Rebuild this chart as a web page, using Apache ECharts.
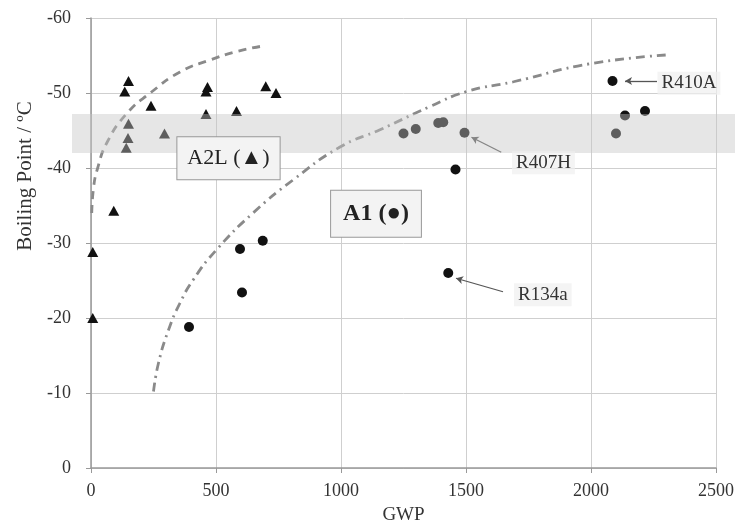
<!DOCTYPE html>
<html>
<head>
<meta charset="utf-8">
<script src="https://cdn.jsdelivr.net/npm/echarts@6/dist/echarts.min.js"></script>
<style>
html, body { margin: 0; background: #fff; }
#main { width: 735px; height: 525px; }
</style>
</head>
<body>
<div id="main"></div>
<script>
// A2L refrigerants (triangles): [GWP, boiling point]
var a2lPoints = [
  [7, -28.8], [7, -20.0], [91, -34.3], [141, -42.7], [148, -44.0], [150, -45.9],
  [135, -50.2], [150, -51.6], [240, -48.3], [294, -44.6], [460, -47.2], [460, -50.2],
  [466, -50.8], [582, -47.6], [699, -50.9], [740, -50.0]
];
// A1 refrigerants (circles)
var a1Points = [
  [392, -18.8], [596, -29.2], [604, -23.4], [687, -30.3], [1250, -44.6], [1299, -45.2],
  [1389, -46.0], [1409, -46.1], [1494, -44.7], [1458, -39.8], [1429, -26.0],
  [2086, -51.6], [2100, -44.6], [2136, -47.0], [2216, -47.6]
];
// trend lines
var a2lTrend = [
  [3, -34], [10, -37.3], [25, -39.8], [64, -43.4], [144, -47.3], [237, -50.0],
  [356, -52.8], [476, -54.4], [580, -55.5], [676, -56.2]
];
var a1Trend = [
  [250, -10.2], [270, -14.0], [310, -18.4], [356, -22.0], [409, -25.1], [502, -29.1],
  [648, -34.0], [808, -38.4], [996, -42.8], [1156, -45.1], [1356, -48.2], [1503, -50.2],
  [1690, -51.5], [1996, -53.9], [2316, -55.1]
];
var bandRange = [-42, -47.2];
var xTicks = [0, 500, 1000, 1500, 2000, 2500];
// annotations: arrow from [from] to [to], label at [at]
var notes = [
  { text: 'R410A', from: [2264, -51.6], to: [2136, -51.6], at: [2266, -51.3] },
  { text: 'R407H', from: [1641, -42.1], to: [1522, -44.1], at: [1684, -40.7] },
  { text: 'R134a', from: [1648, -23.5], to: [1460, -25.3], at: [1692, -23.1] }
];
var boxes = [
  { text: 'A2L (▲)', at: [550, -41.3], bold: false },
  { text: 'A1 (●)', at: [1140, -33.9], bold: true }
];

var font = 'Liberation Serif, Times New Roman, serif';
var chart = echarts.init(document.getElementById('main'));

chart.setOption({
  animation: false,
  grid: { left: 91, right: 19, top: 18, bottom: 57, containLabel: false, outerBoundsMode: 'none' },
  xAxis: {
    type: 'value', min: xTicks[0], max: xTicks[xTicks.length - 1], interval: 500,
    name: 'GWP', nameLocation: 'middle', nameGap: 38,
    nameTextStyle: { fontFamily: font, fontSize: 19, color: '#333' },
    axisLine: { lineStyle: { color: '#999', width: 1.5 } },
    axisTick: { show: true, length: 5, lineStyle: { color: '#999' } },
    axisLabel: { fontFamily: font, fontSize: 18, color: '#333', margin: 14,
      formatter: function (v) { return String(v); } },
    splitLine: { lineStyle: { color: '#cfcfcf' } }
  },
  yAxis: {
    type: 'value', min: -60, max: 0, interval: 10, inverse: true,
    axisLine: { show: true, lineStyle: { color: '#999', width: 1.5 } },
    axisTick: { show: true, length: 5, lineStyle: { color: '#999' } },
    axisLabel: { fontFamily: font, fontSize: 18, color: '#333', margin: 20 },
    splitLine: { lineStyle: { color: '#cfcfcf' } }
  },
  series: [
    {
      type: 'line', data: a2lTrend, smooth: true, symbol: 'none', silent: true,
      lineStyle: { color: '#8a8a8a', width: 2.8, type: [8, 6] }
    },
    {
      type: 'line', data: a1Trend, smooth: true, symbol: 'none', silent: true,
      lineStyle: { color: '#8a8a8a', width: 2.8, type: [9, 5, 2, 5] }
    },
    {
      type: 'scatter', data: a2lPoints, symbol: 'triangle', symbolSize: [11, 10],
      itemStyle: { color: '#111', opacity: 1 }
    },
    {
      type: 'scatter', data: a1Points, symbol: 'circle', symbolSize: 10,
      itemStyle: { color: '#111', opacity: 1 }
    },
    {
      type: 'scatter', data: [],
      markLine: {
        silent: true, animation: false,
        symbol: ['none', 'arrow'], symbolSize: [6, 7],
        label: { show: false },
        lineStyle: { color: '#555', width: 1.3, type: 'solid' },
        data: notes.map(function (n) {
          return [{ coord: n.from }, { coord: n.to }];
        })
      }
    }
  ]
});

// band, axis title and text boxes
var yTop = chart.convertToPixel({ gridIndex: 0 }, [0, bandRange[1]])[1];
var yBot = chart.convertToPixel({ gridIndex: 0 }, [0, bandRange[0]])[1];
var elements = [{
  type: 'rect', z: 10, silent: true,
  shape: { x: 72, y: yTop, width: 735 - 72, height: yBot - yTop },
  style: { fill: 'rgba(197,197,197,0.43)' }
}, {
  type: 'text', z: 20, x: 25, y: 176, rotation: Math.PI / 2,
  style: {
    text: 'Boiling Point / ºC', font: '21px ' + font, fill: '#333',
    align: 'center', verticalAlign: 'middle'
  }
}];
notes.forEach(function (n) {
  var p = chart.convertToPixel({ gridIndex: 0 }, n.at);
  elements.push({
    type: 'text', z: 20, x: p[0], y: p[1],
    style: {
      text: n.text, font: '19px ' + font, fill: '#333',
      align: 'left', verticalAlign: 'middle',
      backgroundColor: 'rgba(240,240,240,0.7)', padding: [2, 4]
    }
  });
});
boxes.forEach(function (b) {
  var p = chart.convertToPixel({ gridIndex: 0 }, b.at);
  elements.push({
    type: 'text', z: 20, x: p[0], y: p[1],
    style: {
      text: b.text, font: (b.bold ? 'bold 24px ' : '22px ') + font, fill: '#222',
      align: 'center', verticalAlign: 'middle',
      backgroundColor: '#f3f3f3', borderColor: '#999', borderWidth: 1,
      padding: b.bold ? [11, 12] : [10, 10]
    }
  });
});
chart.setOption({ graphic: { elements: elements } });
</script>
</body>
</html>
